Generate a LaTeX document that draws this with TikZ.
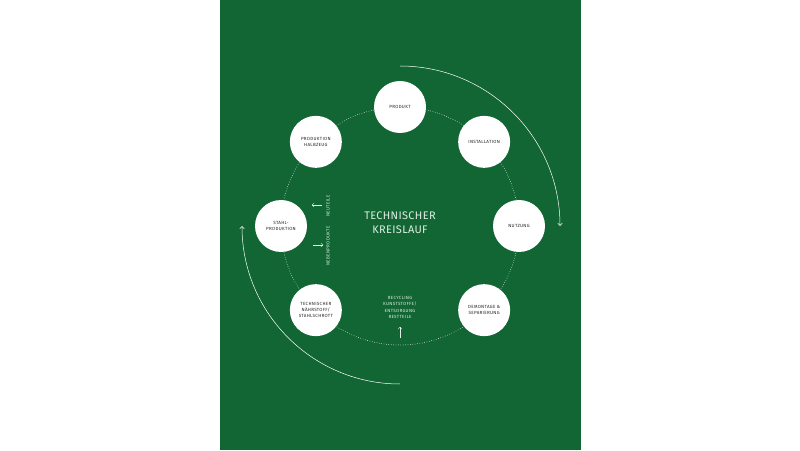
\documentclass[tikz,border=0pt]{standalone}
\usepackage{fontspec}
\setmainfont{Fira Sans}
\newfontfamily\lblfont[LetterSpace=7]{Fira Sans}
\newfontfamily\ttlfont[LetterSpace=3]{Fira Sans}
\usetikzlibrary{arrows.meta,calc}
\definecolor{bggreen}{RGB}{17,102,51}
\definecolor{lblcol}{RGB}{35,35,35}
\definecolor{lighttxt}{RGB}{222,238,226}
\begin{document}
\begin{tikzpicture}[x=1pt,y=1pt,
  station/.style={circle,fill=white,minimum size=52pt,inner sep=0pt,align=center,
    font=\lblfont\fontsize{4.5}{6.2}\selectfont,text=lblcol},
  flowarc/.style={draw=white,line width=0.5pt,-{Straight Barb[length=2.5pt,width=4.5pt]}},
  smallarrow/.style={draw=lighttxt,line width=0.4pt,-{Straight Barb[length=1.8pt,width=4pt]}},
  smalltxt/.style={text=lighttxt,align=center,inner sep=0pt,font=\lblfont\fontsize{4.5}{6.3}\selectfont},
  ringline/.style={draw=white,line width=0.75pt,line cap=round,dash pattern=on 0pt off 2.4pt}]
\useasboundingbox (0,0) rectangle (800,450);
\fill[white] (0,0) rectangle (800,450);
\fill[bggreen] (220,0) rectangle (581,450);
\coordinate (c) at (400,224);
% dotted ring
\draw[ringline] (c) circle[radius=119];
% outer arcs
\coordinate (a1s) at ($(c)+(90:160)$);
\coordinate (a2s) at ($(c)+(270:158)$);
\draw[flowarc] (a1s) arc[start angle=90,end angle=0,radius=160];
\draw[flowarc] (a2s) arc[start angle=270,end angle=180,radius=158];
% stations
\node[station] (produkt) at ($(c)+(90:119)$) {PRODUKT};
\node[station] (install) at ($(c)+(45:119)$) {INSTALLATION};
\node[station] (nutzung) at ($(c)+(0:119)$) {NUTZUNG};
\node[station] (demontage) at ($(c)+(-45:119)$) {DEMONTAGE \&\\SEPARIERUNG};
\node[station] (naehr) at ($(c)+(-135:119)$) {TECHNISCHER\\NÄHRSTOFF/\\STAHLSCHROTT};
\node[station] (stahl) at ($(c)+(180:119)$) {STAHL-\\PRODUKTION};
\node[station] (halbzeug) at ($(c)+(135:119)$) {PRODUKTION\\HALBZEUG};
% title
\node[text=lighttxt,align=center,inner sep=0pt,font=\ttlfont\fontsize{11}{14}\selectfont] (title) at (400,227) {TECHNISCHER\\KREISLAUF};
% recycling text
\node[smalltxt] (recyc) at (400,142.5) {RECYCLING\\KUNSTSTOFFE/\\ENTSORGUNG\\RESTTEILE};
\coordinate (upA) at (400,112);
\coordinate (upB) at (400,123);
\draw[smallarrow] (upA) -- (upB);
% side texts and arrows
\node[smalltxt,rotate=90] (neu) at (328,244) {NEUTEILE};
\node[smalltxt,rotate=90] (neben) at (328,204) {NEBENPRODUKTE};
\coordinate (l1) at (322,245);
\coordinate (l2) at (312,245);
\coordinate (r1) at (313,205);
\coordinate (r2) at (323,205);
\draw[smallarrow] (l1) -- (l2);
\draw[smallarrow] (r1) -- (r2);
\end{tikzpicture}
\end{document}
